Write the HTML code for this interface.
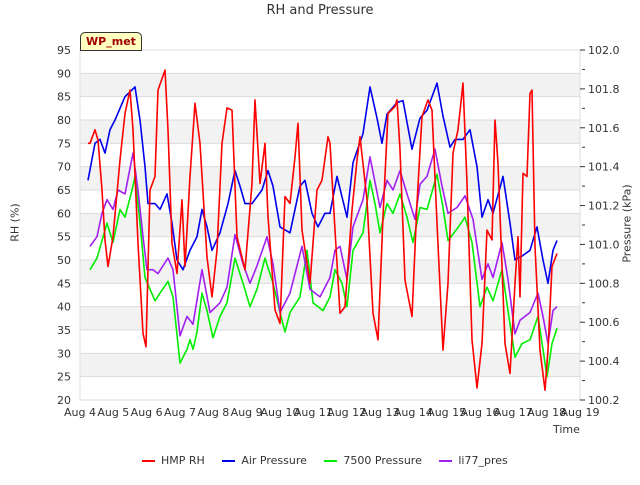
<!DOCTYPE html>
<html><head><meta charset="utf-8"><style>
body{margin:0;background:#fff;font-family:"Liberation Sans","DejaVu Sans",sans-serif;}
svg text{font-family:"DejaVu Sans","Liberation Sans",sans-serif;}
</style></head><body>
<svg id="c" width="640" height="480" xmlns="http://www.w3.org/2000/svg"></svg>
<script>
const xTickLabels=["Aug 4","Aug 5","Aug 6","Aug 7","Aug 8","Aug 9","Aug 10","Aug 11","Aug 12","Aug 13","Aug 14","Aug 15","Aug 16","Aug 17","Aug 18","Aug 19"];
const rhTicks=[20,25,30,35,40,45,50,55,60,65,70,75,80,85,90,95];
const presTicks=[100.2,100.4,100.6,100.8,101.0,101.2,101.4,101.6,101.8,102.0];
const rhT=[.24,.3,.45,.54,.66,.75,.84,.99,1.2,1.35,1.5,1.59,1.74,1.89,1.98,2.1,2.25,2.34,2.55,2.64,2.76,2.91,3.06,3.15,3.3,3.45,3.6,3.81,3.96,4.11,4.26,4.41,4.56,4.71,4.95,5.16,5.25,5.4,5.55,5.64,5.85,6.0,6.15,6.3,6.45,6.54,6.66,6.9,7.11,7.26,7.44,7.5,7.65,7.8,7.95,8.16,8.31,8.4,8.61,8.79,8.94,9.09,9.24,9.45,9.51,9.6,9.75,9.96,10.11,10.26,10.44,10.56,10.71,10.89,11.04,11.19,11.34,11.49,11.61,11.76,11.91,12.06,12.21,12.36,12.45,12.54,12.75,12.9,13.05,13.14,13.2,13.29,13.41,13.5,13.56,13.65,13.8,13.95,14.04,14.16,14.31];
const rhV=[75,75,77.9,75.7,65,54.3,48.6,55,71.4,81.4,86.4,77.9,53.6,34.3,31.4,65,67.9,86.4,90.7,77.9,53.6,47.1,62.9,48.6,67.9,83.6,75,50.6,42.1,52.1,75,82.6,82.1,55,47.9,66.4,84.3,66.4,75,59.3,39.3,36.4,63.6,62.1,72.1,79.3,56.4,45,65,67.1,76.4,75,56.4,38.6,40,60.7,71.4,76.4,62.9,38.6,32.9,59.3,81.4,82.9,84.3,73.6,45.7,37.9,62.2,80.7,84.3,82.1,57.9,30.7,45,72.9,77.9,87.9,66.4,32.9,22.6,32.1,56.4,54.3,80,70.7,32.1,25.7,45,55,42.1,68.6,67.9,85.7,86.4,52.9,30.7,22.1,30.7,48.6,51.4];
const airT=[.24,.45,.6,.75,.9,1.05,1.35,1.65,1.8,1.95,2.04,2.25,2.4,2.61,2.76,2.91,3.09,3.3,3.51,3.66,3.81,3.96,4.2,4.44,4.65,4.8,4.95,5.16,5.46,5.64,5.79,6.0,6.3,6.6,6.75,6.96,7.14,7.35,7.5,7.71,8.01,8.19,8.49,8.7,8.91,9.06,9.21,9.51,9.69,9.96,10.2,10.41,10.71,10.89,11.1,11.25,11.49,11.7,11.91,12.06,12.24,12.39,12.69,12.9,13.05,13.26,13.5,13.71,13.89,14.04,14.19,14.31];
const airV=[101.33,101.52,101.54,101.47,101.59,101.64,101.76,101.81,101.64,101.40,101.21,101.21,101.18,101.26,101.11,100.92,100.87,100.97,101.04,101.18,101.09,100.97,101.06,101.21,101.38,101.30,101.21,101.21,101.28,101.38,101.30,101.09,101.06,101.30,101.33,101.16,101.09,101.16,101.16,101.35,101.14,101.42,101.57,101.81,101.65,101.52,101.67,101.73,101.74,101.49,101.65,101.69,101.83,101.66,101.50,101.54,101.54,101.59,101.40,101.14,101.23,101.16,101.35,101.11,100.92,100.94,100.97,101.09,100.92,100.80,100.97,101.02];
const g7500T=[.3,.51,.81,.99,1.2,1.35,1.56,1.65,1.8,1.95,2.1,2.25,2.4,2.64,2.79,3.0,3.21,3.3,3.39,3.51,3.66,3.81,3.99,4.2,4.41,4.65,4.89,5.1,5.31,5.55,5.79,6.0,6.15,6.3,6.6,6.81,6.99,7.29,7.5,7.65,7.86,8.01,8.19,8.49,8.7,8.85,9.0,9.21,9.39,9.6,9.81,9.99,10.2,10.41,10.71,10.89,11.04,11.31,11.55,11.76,12.0,12.21,12.39,12.66,12.84,13.05,13.26,13.5,13.74,13.89,14.01,14.16,14.31];
const g7500V=[100.87,100.93,101.11,101.01,101.18,101.14,101.28,101.35,101.11,100.83,100.77,100.71,100.75,100.81,100.73,100.39,100.46,100.51,100.46,100.55,100.75,100.66,100.52,100.63,100.70,100.93,100.80,100.68,100.77,100.93,100.80,100.65,100.55,100.65,100.73,100.97,100.70,100.66,100.73,100.87,100.80,100.68,100.97,101.06,101.33,101.21,101.06,101.21,101.16,101.26,101.14,101.01,101.19,101.18,101.36,101.19,101.02,101.08,101.14,101.01,100.68,100.78,100.71,100.87,100.66,100.42,100.49,100.51,100.63,100.46,100.32,100.49,100.57];
const li77T=[.3,.51,.66,.81,.99,1.14,1.35,1.59,1.74,1.89,2.01,2.19,2.34,2.64,2.79,3.0,3.21,3.39,3.66,3.9,4.2,4.41,4.65,4.89,5.1,5.31,5.61,5.79,6.0,6.3,6.66,6.9,7.2,7.5,7.65,7.8,8.01,8.19,8.49,8.7,9.0,9.21,9.39,9.6,9.81,10.05,10.2,10.41,10.65,10.86,11.04,11.31,11.55,11.79,12.06,12.24,12.39,12.66,12.84,13.05,13.2,13.5,13.74,13.89,14.04,14.19,14.31];
const li77V=[100.99,101.04,101.16,101.23,101.18,101.28,101.26,101.47,101.28,101.04,100.87,100.87,100.85,100.93,100.87,100.53,100.63,100.59,100.87,100.65,100.70,100.78,101.05,100.90,100.80,100.89,101.04,100.90,100.65,100.75,100.99,100.77,100.73,100.83,100.97,100.99,100.82,101.09,101.23,101.45,101.19,101.33,101.28,101.38,101.26,101.13,101.31,101.35,101.49,101.30,101.16,101.19,101.25,101.13,100.82,100.90,100.83,101.01,100.82,100.54,100.61,100.65,100.75,100.63,100.49,100.66,100.68];

const L=80,R=580,T=50,B=400;
const xS=d=>L+d/15*(R-L);
const yRH=v=>B-(v-20)/75*(B-T);
const yP=p=>B-(p-100.2)/1.8*(B-T);
const svg=document.getElementById('c');
const NS='http://www.w3.org/2000/svg';
function mk(tag,attrs,parent){const e=document.createElementNS(NS,tag);for(const k in attrs)e.setAttribute(k,attrs[k]);(parent||svg).appendChild(e);return e;}

// bands and grid
for(let v=25;v<95;v+=10){
  const b=mk('rect',{x:L,y:yRH(v+5),width:R-L,height:yRH(v)-yRH(v+5),fill:'#f2f2f2'});
  
  
}
rhTicks.forEach(v=>{
  const g=mk('line',{x1:L,x2:R,y1:yRH(v),y2:yRH(v),stroke:'#dcdcdc','stroke-width':1});
  
  
  const t=mk('text',{x:L-9,y:yRH(v)+4,'text-anchor':'end','font-size':11,fill:'#333'});
  t.textContent=v;
  
  
});
const fr=mk('rect',{x:L,y:T,width:R-L,height:B-T,fill:'none',stroke:'#ddd'});


presTicks.forEach(p=>{
  const t=mk('text',{x:R+8,y:yP(p)+4,'font-size':11,fill:'#333'});
  t.textContent=p.toFixed(1);
  
  
});
for(let i=0;i<=18;i++){
  const p=100.2+i*0.1;
  const tk=mk('line',{x1:R+i%2*0+0,x2:R+5,y1:yP(p),y2:yP(p),stroke:'#333'});
  tk.setAttribute('x1',R+(i%2?2:0)+0);
  
  
}
xTickLabels.forEach((s,i)=>{
  const t=mk('text',{x:xS(i),y:B+16,'text-anchor':'middle','font-size':11,fill:'#333'});
  t.textContent=s;
  
  
});
function series(ts,vs,ys,color,name){
  const pts=ts.map((t,i)=>xS(t).toFixed(1)+','+ys(vs[i]).toFixed(1)).join(' ');
  const pl=mk('polyline',{points:pts,fill:'none',stroke:color,'stroke-width':1.6,'stroke-linejoin':'round'});
  
  
}
series(g7500T,g7500V,yP,'#00ee00','series-7500-pressure');
series(li77T,li77V,yP,'#a020f0','series-li77-pres');
series(airT,airV,yP,'#0000ee','series-air-pressure');
series(rhT,rhV,yRH,'#ff0000','series-hmp-rh');
</script>
<div style="position:absolute;left:0;top:0;width:640px;height:480px;pointer-events:none">
<div style="position:absolute;top:3px;width:640px;text-align:center;font:13px 'DejaVu Sans',sans-serif;color:#333">RH and Pressure</div>
<div style="position:absolute;left:80px;top:32px;width:60px;height:17px;background:#ffffc0;border:1px solid #333;border-radius:5px 5px 0 0;font:bold 11px 'DejaVu Sans',sans-serif;color:#a00000;text-align:center;line-height:17px">WP_met</div>
<div style="position:absolute;left:-15px;top:216px;width:60px;text-align:center;transform:rotate(-90deg);font:11px 'DejaVu Sans',sans-serif;color:#333">RH (%)</div>
<div style="position:absolute;left:577px;top:217px;width:100px;text-align:center;transform:rotate(-90deg);font:11px 'DejaVu Sans',sans-serif;color:#333">Pressure (kPa)</div>
<div style="position:absolute;left:553px;top:423px;font:11px 'DejaVu Sans',sans-serif;color:#333">Time</div>
<div style="position:absolute;top:454px;left:142px;font:11px 'DejaVu Sans',sans-serif;color:#333;white-space:nowrap">
<span><span style="display:inline-block;width:13px;height:2px;background:#f00;vertical-align:middle;margin-right:6px"></span>HMP RH</span>
<span style="margin-left:14px"><span style="display:inline-block;width:13px;height:2px;background:#00e;vertical-align:middle;margin-right:6px"></span>Air Pressure</span>
<span style="margin-left:14px"><span style="display:inline-block;width:13px;height:2px;background:#0e0;vertical-align:middle;margin-right:6px"></span>7500 Pressure</span>
<span style="margin-left:14px"><span style="display:inline-block;width:13px;height:2px;background:#a020f0;vertical-align:middle;margin-right:6px"></span>li77_pres</span>
</div>
</div>
</body></html>
